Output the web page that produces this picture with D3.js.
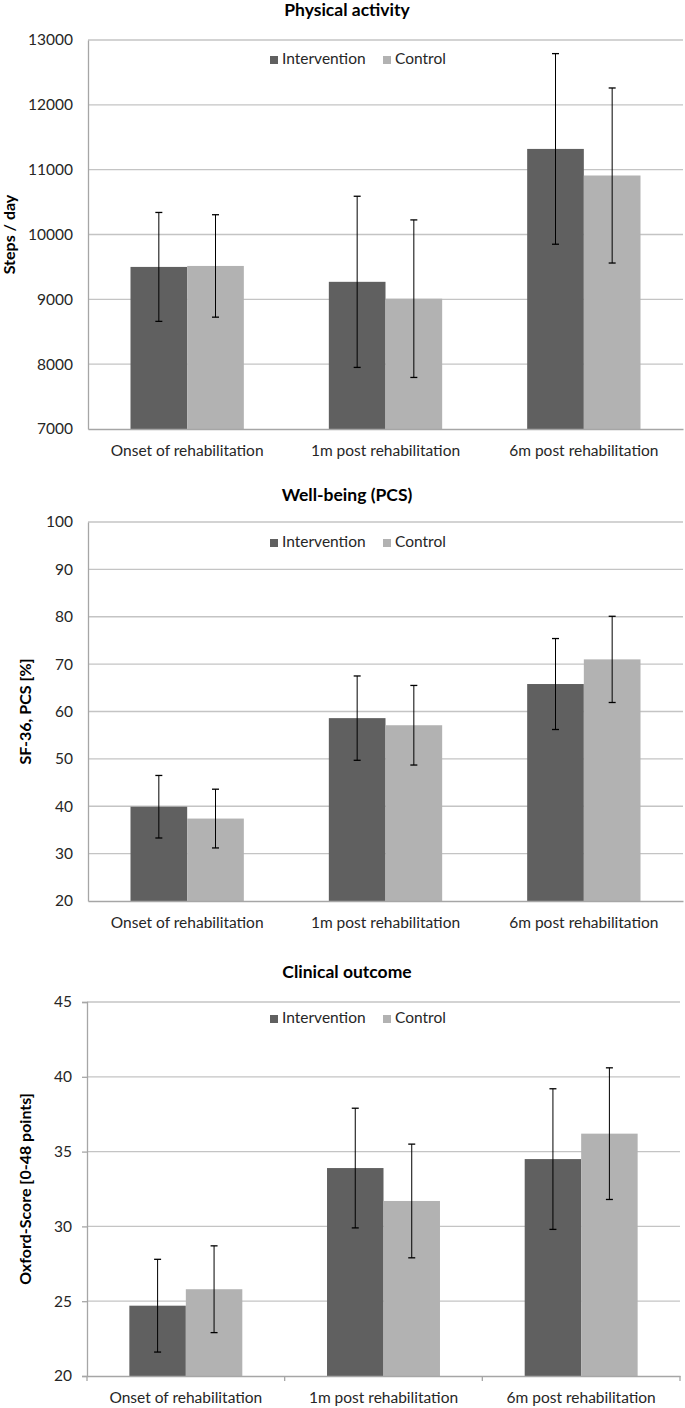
<!DOCTYPE html>
<html><head><meta charset="utf-8">
<script src="https://cdn.jsdelivr.net/npm/d3@7"></script>
<style>
html,body{margin:0;padding:0;background:#fff;}
svg{display:block;font-family:Lato,"Open Sans",sans-serif;}
</style></head>
<body>
<svg id="chart" width="685" height="1408"></svg>
<script>
const categories = ["Onset of rehabilitation", "1m post rehabilitation", "6m post rehabilitation"];
const seriesNames = ["Intervention", "Control"];

const stepsIntervention = [9500, 9270, 11320];
const stepsInterventionSD = [840, 1320, 1470];
const stepsControl = [9515, 9010, 10910];
const stepsControlSD = [790, 1215, 1350];
const stepsTicks = [7000, 8000, 9000, 10000, 11000, 12000, 13000];

const pcsIntervention = [39.9, 58.6, 65.8];
const pcsInterventionSD = [6.6, 8.9, 9.6];
const pcsControl = [37.4, 57.1, 71.0];
const pcsControlSD = [6.2, 8.4, 9.1];
const pcsTicks = [20, 30, 40, 50, 60, 70, 80, 90, 100];

const oxfordIntervention = [24.7, 33.9, 34.5];
const oxfordInterventionSD = [3.1, 4.0, 4.7];
const oxfordControl = [25.8, 31.7, 36.2];
const oxfordControlSD = [2.9, 3.8, 4.4];
const oxfordTicks = [20, 25, 30, 35, 40, 45];

const colors = ["#606060", "#b2b2b2"];

const panels = [
  {title: "Physical activity", ylabel: "Steps / day", means: [stepsIntervention, stepsControl], sds: [stepsInterventionSD, stepsControlSD], ticks: stepsTicks,
   left: 88, right: 683, top: 40, bottom: 429, titleY: 12, legendY: 60, ylabelX: 11, tickMarks: false},
  {title: "Well-being (PCS)", ylabel: "SF-36, PCS [%]", means: [pcsIntervention, pcsControl], sds: [pcsInterventionSD, pcsControlSD], ticks: pcsTicks,
   left: 88, right: 683, top: 522, bottom: 901, titleY: 497, legendY: 543, ylabelX: 27, tickMarks: false},
  {title: "Clinical outcome", ylabel: "Oxford-Score [0-48 points]", means: [oxfordIntervention, oxfordControl], sds: [oxfordInterventionSD, oxfordControlSD], ticks: oxfordTicks,
   left: 87, right: 680, top: 1002, bottom: 1376, titleY: 974, legendY: 1019, ylabelX: 27, tickMarks: true}
];

const svg = d3.select("#chart");
const textColor = "#262626";

panels.forEach(p => {
  const g = svg.append("g");
  const y = d3.scaleLinear().domain([d3.min(p.ticks), d3.max(p.ticks)]).range([p.bottom, p.top]);
  const x0 = d3.scaleBand().domain(categories).range([p.left, p.right]).paddingInner(0).paddingOuter(0);
  const x1 = d3.scaleBand().domain(seriesNames).range([0, x0.bandwidth()]).paddingInner(0).paddingOuter(0.75);

  // gridlines
  g.append("g").selectAll("line").data(p.ticks.slice(1)).join("line")
    .attr("x1", p.left).attr("x2", p.right)
    .attr("y1", d => y(d)).attr("y2", d => y(d))
    .attr("stroke", "#c4c4c4").attr("stroke-width", 1.3);

  // y axis
  const yAxis = d3.axisLeft(y).tickValues(p.ticks).tickFormat(d3.format("d"))
    .tickSize(p.tickMarks ? 5 : 0).tickPadding(p.tickMarks ? 10 : 15);
  const ya = g.append("g").attr("transform", `translate(${p.left},0)`).call(yAxis);
  ya.select(".domain").attr("stroke", "#a6a6a6").attr("stroke-width", 1.3);
  ya.selectAll(".tick line").attr("stroke", "#a6a6a6").attr("stroke-width", 1.3);
  ya.selectAll("text").attr("font-size", 15.5).attr("fill", textColor).attr("font-family", "Lato");

  // bars
  seriesNames.forEach((s, si) => {
    g.append("g").selectAll("rect").data(categories).join("rect")
      .attr("x", c => x0(c) + x1(s))
      .attr("width", x1.bandwidth())
      .attr("y", (c, i) => y(p.means[si][i]))
      .attr("height", (c, i) => p.bottom - y(p.means[si][i]))
      .attr("fill", colors[si]);
  });

  // x axis
  const xAxis = d3.axisBottom(x0).tickSize(0).tickPadding(16);
  const xa = g.append("g").attr("transform", `translate(0,${p.bottom})`).call(xAxis);
  xa.select(".domain").attr("stroke", "#a6a6a6").attr("stroke-width", 1.3);
  xa.selectAll("text").attr("font-size", 15.5).attr("fill", textColor).attr("font-family", "Lato");
  if (p.tickMarks) {
    const bounds = categories.map(c => x0(c)).concat([p.right]);
    xa.append("g").selectAll("line").data(bounds).join("line")
      .attr("x1", d => d).attr("x2", d => d).attr("y1", 0).attr("y2", 5)
      .attr("stroke", "#a6a6a6").attr("stroke-width", 1.3);
  }

  // error bars
  seriesNames.forEach((s, si) => {
    const eg = g.append("g");
    categories.forEach((c, i) => {
      const cx = x0(c) + x1(s) + x1.bandwidth() / 2;
      const hi = y(p.means[si][i] + p.sds[si][i]);
      const lo = y(p.means[si][i] - p.sds[si][i]);
      eg.append("line").attr("x1", cx).attr("x2", cx).attr("y1", hi).attr("y2", lo).attr("stroke", "#000").attr("stroke-width", 1);
      [hi, lo].forEach(yy => eg.append("line").attr("x1", cx - 3.5).attr("x2", cx + 3.5).attr("y1", yy).attr("y2", yy).attr("stroke", "#000").attr("stroke-width", 1.3));
    });
  });

  // title
  g.append("text").attr("x", 347).attr("y", p.titleY).attr("text-anchor", "middle").attr("dominant-baseline", "middle")
    .attr("font-size", 17.5).attr("font-weight", "bold").attr("fill", "#000").text(p.title);

  // y label
  g.append("text").attr("transform", `translate(${p.ylabelX},${(p.top + p.bottom) / 2}) rotate(-90)`)
    .attr("text-anchor", "middle").attr("dominant-baseline", "middle")
    .attr("font-size", 16).attr("font-weight", "bold").attr("fill", "#000").text(p.ylabel);

  // legend
  const legendX = [270, 383];
  const lg = g.append("g");
  seriesNames.forEach((s, si) => {
    lg.append("rect").attr("x", legendX[si]).attr("y", p.legendY - 4).attr("width", 8).attr("height", 8).attr("fill", colors[si]);
    lg.append("text").attr("x", legendX[si] + 12).attr("y", p.legendY).attr("dominant-baseline", "middle")
      .attr("font-size", 15.5).attr("fill", textColor).text(s);
  });
});
</script>
</body></html>
